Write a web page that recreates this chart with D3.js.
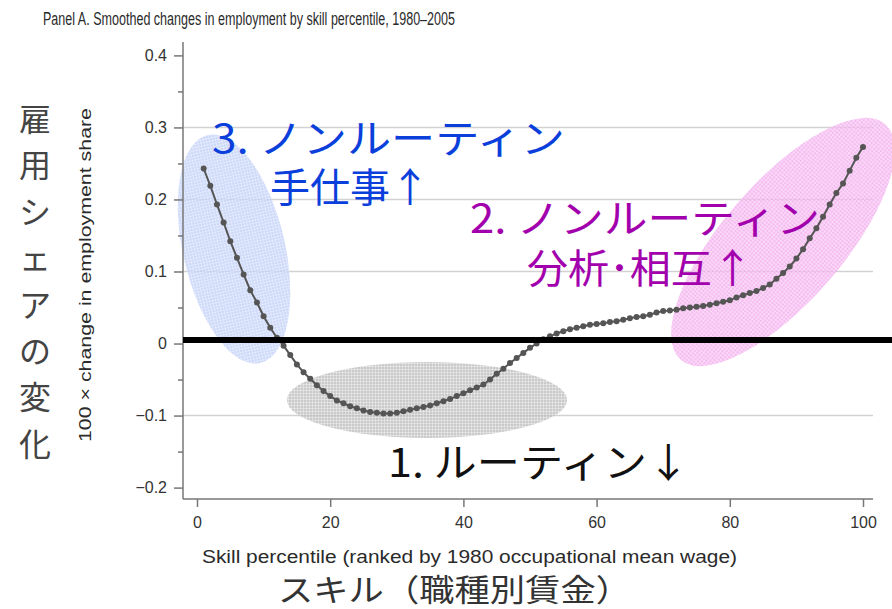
<!DOCTYPE html>
<meta charset="utf-8">
<style>

body {
  margin: 0;
  background: #fff;
}

svg {
  display: block;
}

.title, .axis-en {
  font-family: "Liberation Sans", Arial, sans-serif;
  fill: #2a2a2a;
}

.tick text {
  font-family: "Liberation Sans", Arial, sans-serif;
  font-size: 16px;
  fill: #333;
}

.tick line {
  stroke: #777;
  stroke-width: 1.5px;
}

.frame {
  stroke: #777;
  stroke-width: 1.5px;
}

.grid {
  stroke: #d2d2d2;
  stroke-width: 1.5px;
}

.jp {
  font-family: "Noto Sans CJK JP", sans-serif;
}

.curve {
  fill: none;
  stroke: #555;
  stroke-width: 2px;
}

.dot {
  fill: #555;
}

</style>
<svg width=892 height=609></svg>
<script src='https://cdn.jsdelivr.net/npm/d3@7/dist/d3.min.js'></script>
<script>

// smoothed change in employment share, percentile 1..100
const percentiles = d3.range(1, 101);
const shareChange = [
  0.243, 0.219, 0.193, 0.168, 0.142, 0.119, 0.096, 0.074, 0.057, 0.038,
  0.022, 0.008, -0.003, -0.016, -0.029, -0.040, -0.049, -0.058, -0.066, -0.073,
  -0.079, -0.083, -0.087, -0.090, -0.093, -0.095, -0.096, -0.097, -0.097, -0.096,
  -0.094, -0.092, -0.090, -0.088, -0.086, -0.083, -0.080, -0.077, -0.073, -0.069,
  -0.065, -0.061, -0.057, -0.050, -0.042, -0.035, -0.027, -0.020, -0.013, -0.006,
  0.000, 0.006, 0.010, 0.014, 0.017, 0.020, 0.022, 0.024, 0.026, 0.027,
  0.028, 0.030, 0.031, 0.033, 0.035, 0.037, 0.038, 0.040, 0.043, 0.045,
  0.046, 0.047, 0.049, 0.050, 0.051, 0.052, 0.054, 0.056, 0.058, 0.060,
  0.064, 0.067, 0.070, 0.073, 0.077, 0.082, 0.090, 0.098, 0.107, 0.118,
  0.131, 0.146, 0.160, 0.176, 0.193, 0.209, 0.222, 0.240, 0.258, 0.273
];

const xTicks = [0, 20, 40, 60, 80, 100];
const yTicks = [-0.2, -0.1, 0, 0.1, 0.2, 0.3, 0.4];
const yTickLabels = ["\u22120.2", "\u22120.1", "0", "0.1", "0.2", "0.3", "0.4"];
const yMinorTicks = [-0.15, -0.05, 0.05, 0.15, 0.25, 0.35];
const gridValues = [-0.1, 0.1, 0.2, 0.3];

const titleText = "Panel A. Smoothed changes in employment by skill percentile, 1980\u20132005";
const xLabelEn = "Skill percentile (ranked by 1980 occupational mean wage)";
const yLabelEn = "100 \u00d7 change in employment share";
const xLabelJp = "スキル（職種別賃金）";
const yLabelJp = "雇用シェアの変化";

const frame = {left: 183, right: 873, top: 42, bottom: 499};

let svg = d3.select("svg");

let x = d3.scaleLinear().domain([0, 100]).range([197, 863]);
let y = d3.scaleLinear().domain([-0.2, 0.4]).range([487.6, 55.4]);

let data = percentiles.map((p, i) => ({p: p, v: shareChange[i]}));

// mesh fill for the highlight ellipses
function meshPattern(id, colour) {
  let pat = svg.append("defs").append("pattern")
    .attr("id", id)
    .attr("width", 3)
    .attr("height", 3)
    .attr("patternUnits", "userSpaceOnUse");
  pat.append("rect").attr("width", 3).attr("height", 3).attr("fill", colour);
  pat.append("path")
    .attr("d", "M0,0.5H3M0.5,0V3")
    .attr("stroke", "#fff")
    .attr("stroke-opacity", 0.35)
    .attr("stroke-width", 1);
}
meshPattern("meshBlue", "#c0cff7");
meshPattern("meshGrey", "#bdbdbd");
meshPattern("meshPink", "#f2a6ec");

// grid
svg.selectAll(".grid")
  .data(gridValues)
  .enter().append("line")
  .attr("class", "grid")
  .attr("x1", frame.left).attr("x2", frame.right)
  .attr("y1", d => y(d)).attr("y2", d => y(d));

// ellipses (under the curve)
svg.append("ellipse")
  .attr("cx", 0).attr("cy", 0).attr("rx", 51).attr("ry", 117)
  .attr("transform", "translate(234,249) rotate(-13)")
  .attr("fill", "url(#meshBlue)")
  .attr("opacity", 0.8);

svg.append("ellipse")
  .attr("cx", 427).attr("cy", 400).attr("rx", 140).attr("ry", 38)
  .attr("fill", "url(#meshGrey)")
  .attr("opacity", 0.8);

svg.append("ellipse")
  .attr("cx", 0).attr("cy", 0).attr("rx", 60).attr("ry", 156)
  .attr("transform", "translate(783,242) rotate(41)")
  .attr("fill", "url(#meshPink)")
  .attr("opacity", 0.75);

// axes
let yAxis = svg.append("g")
  .attr("transform", "translate(" + frame.left + ",0)")
  .call(d3.axisLeft(y).tickValues(yTicks).tickSize(9).tickPadding(7)
    .tickFormat((d, i) => yTickLabels[i]));
yAxis.select(".domain").remove();

let yMinor = svg.append("g")
  .attr("transform", "translate(" + frame.left + ",0)")
  .call(d3.axisLeft(y).tickValues(yMinorTicks).tickSize(5).tickFormat(""));
yMinor.select(".domain").remove();

let xAxis = svg.append("g")
  .attr("transform", "translate(0," + frame.bottom + ")")
  .call(d3.axisBottom(x).tickValues(xTicks).tickSize(8).tickPadding(10));
xAxis.select(".domain").remove();

svg.append("line").attr("class", "frame")
  .attr("x1", frame.left).attr("x2", frame.left)
  .attr("y1", frame.top).attr("y2", frame.bottom);
svg.append("line").attr("class", "frame")
  .attr("x1", frame.left).attr("x2", frame.right)
  .attr("y1", frame.bottom).attr("y2", frame.bottom);

// curve
svg.append("path")
  .datum(data)
  .attr("class", "curve")
  .attr("d", d3.line().x(d => x(d.p)).y(d => y(d.v)));

svg.selectAll(".dot")
  .data(data)
  .enter().append("circle")
  .attr("class", "dot")
  .attr("cx", d => x(d.p))
  .attr("cy", d => y(d.v))
  .attr("r", 3);

// thick zero line drawn over everything
svg.append("line")
  .attr("x1", frame.left).attr("x2", 892)
  .attr("y1", 340).attr("y2", 340)
  .attr("stroke", "#000")
  .attr("stroke-width", 6);

// titles
svg.append("text").attr("class", "title")
  .attr("x", 43).attr("y", 25)
  .attr("font-size", 17.5)
  .attr("textLength", 412).attr("lengthAdjust", "spacingAndGlyphs")
  .text(titleText);

svg.append("text").attr("class", "axis-en")
  .attr("x", 202).attr("y", 563)
  .attr("font-size", 17.5)
  .attr("textLength", 535).attr("lengthAdjust", "spacingAndGlyphs")
  .text(xLabelEn);

svg.append("text").attr("class", "axis-en")
  .attr("transform", "translate(91,275) rotate(-90)")
  .attr("text-anchor", "middle")
  .attr("font-size", 17)
  .attr("textLength", 334).attr("lengthAdjust", "spacingAndGlyphs")
  .text(yLabelEn);

svg.append("text").attr("class", "jp")
  .attr("x", 278).attr("y", 601)
  .attr("font-size", 31)
  .attr("fill", "#333")
  .attr("textLength", 353).attr("lengthAdjust", "spacingAndGlyphs")
  .text(xLabelJp);

svg.selectAll(".yjp")
  .data(Array.from(yLabelJp))
  .enter().append("text")
  .attr("class", "jp yjp")
  .attr("x", 35)
  .attr("y", (d, i) => 119 + i * 46.4 + 12)
  .attr("text-anchor", "middle")
  .attr("font-size", 32)
  .attr("fill", "#444")
  .text(d => d);

// annotations
const notes = [
  {text: "3. ノンルーティン", x: 212, y: 153, len: 353, colour: "#0b3fdc"},
  {text: "手仕事↑", x: 270, y: 202, len: 160, colour: "#0b3fdc"},
  {text: "2. ノンルーティン", x: 470, y: 233, len: 350, colour: "#a300ad"},
  {text: "分析･相互↑", x: 527, y: 283, len: 226, colour: "#a300ad"},
  {text: "1. ルーティン↓", x: 388, y: 477, len: 302, colour: "#111"}
];

svg.selectAll(".note")
  .data(notes)
  .enter().append("text")
  .attr("class", "jp note")
  .attr("x", d => d.x).attr("y", d => d.y)
  .attr("font-size", 40)
  .attr("fill", d => d.colour)
  .attr("textLength", d => d.len).attr("lengthAdjust", "spacingAndGlyphs")
  .text(d => d.text);

</script>
